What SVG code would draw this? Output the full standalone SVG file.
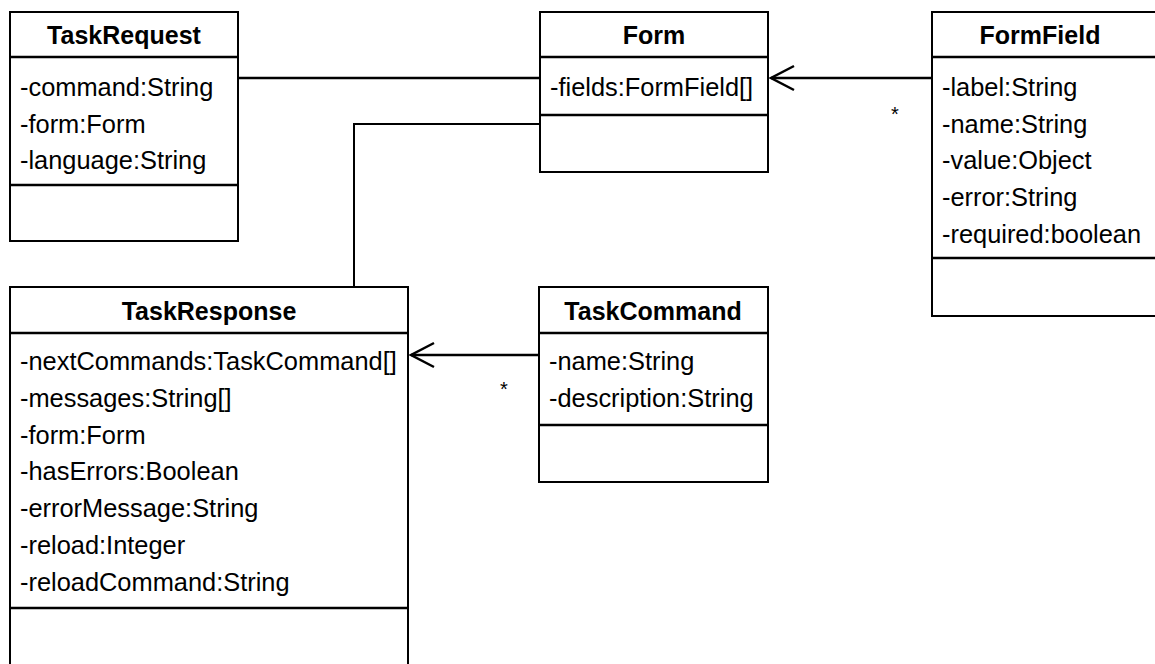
<svg xmlns="http://www.w3.org/2000/svg" width="1155" height="664" viewBox="0 0 1155 664">
<style>
.box{fill:#fff;stroke:#000;stroke-width:2}
.sep{stroke:#000;stroke-width:2.5}
.t{font-family:"Liberation Sans",Arial,sans-serif;font-size:25px;font-weight:bold;text-anchor:middle;fill:#000}
.a{font-family:"Liberation Sans",Arial,sans-serif;font-size:25.4px;fill:#000}
.m{font-family:"Liberation Sans",Arial,sans-serif;font-size:20px;fill:#000}
.c{fill:none;stroke:#000}
</style>
<rect width="1155" height="664" fill="#fff"/>
<g id="connectors">
<line class="c" x1="238" y1="78" x2="540" y2="78" stroke-width="2.5"/>
<polyline class="c" points="540,124 354,124 354,287" stroke-width="2"/>
<line class="c" x1="932" y1="78" x2="771" y2="78" stroke-width="2.5"/>
<polyline class="c" points="794,66 771,78 794,90" stroke-width="2.5"/>
<text class="m" x="891" y="121">*</text>
<line class="c" x1="539" y1="355" x2="411" y2="355" stroke-width="2.5"/>
<polyline class="c" points="434,343 411,355 434,367" stroke-width="2.5"/>
<text class="m" x="500" y="396">*</text>
</g>
<g id="TaskRequest">
<rect class="box" x="10" y="12" width="228" height="229"/>
<line class="sep" x1="10" y1="57" x2="238" y2="57"/>
<line class="sep" x1="10" y1="185" x2="238" y2="185"/>
<text class="t" x="124" y="44">TaskRequest</text>
<text class="a" x="20" y="96">-command:String</text>
<text class="a" x="20" y="133">-form:Form</text>
<text class="a" x="20" y="169">-language:String</text>
</g>
<g id="Form">
<rect class="box" x="540" y="12" width="228" height="160"/>
<line class="sep" x1="540" y1="57" x2="768" y2="57"/>
<line class="sep" x1="540" y1="115" x2="768" y2="115"/>
<text class="t" x="654" y="44">Form</text>
<text class="a" x="550" y="96">-fields:FormField[]</text>
</g>
<g id="FormField">
<rect class="box" x="932" y="12" width="230" height="304"/>
<line class="sep" x1="932" y1="57" x2="1162" y2="57"/>
<line class="sep" x1="932" y1="258" x2="1162" y2="258"/>
<text class="t" x="1040" y="44">FormField</text>
<text class="a" x="942" y="96">-label:String</text>
<text class="a" x="942" y="133">-name:String</text>
<text class="a" x="942" y="169">-value:Object</text>
<text class="a" x="942" y="206">-error:String</text>
<text class="a" x="942" y="243">-required:boolean</text>
</g>
<g id="TaskResponse">
<rect class="box" x="10" y="287" width="398" height="390"/>
<line class="sep" x1="10" y1="333" x2="408" y2="333"/>
<line class="sep" x1="10" y1="608" x2="408" y2="608"/>
<text class="t" x="209" y="320">TaskResponse</text>
<text class="a" x="20" y="370">-nextCommands:TaskCommand[]</text>
<text class="a" x="20" y="407">-messages:String[]</text>
<text class="a" x="20" y="444">-form:Form</text>
<text class="a" x="20" y="480">-hasErrors:Boolean</text>
<text class="a" x="20" y="517">-errorMessage:String</text>
<text class="a" x="20" y="554">-reload:Integer</text>
<text class="a" x="20" y="591">-reloadCommand:String</text>
</g>
<g id="TaskCommand">
<rect class="box" x="539" y="287" width="229" height="195"/>
<line class="sep" x1="539" y1="333" x2="768" y2="333"/>
<line class="sep" x1="539" y1="425" x2="768" y2="425"/>
<text class="t" x="653" y="320">TaskCommand</text>
<text class="a" x="549" y="370">-name:String</text>
<text class="a" x="549" y="407">-description:String</text>
</g>
</svg>
